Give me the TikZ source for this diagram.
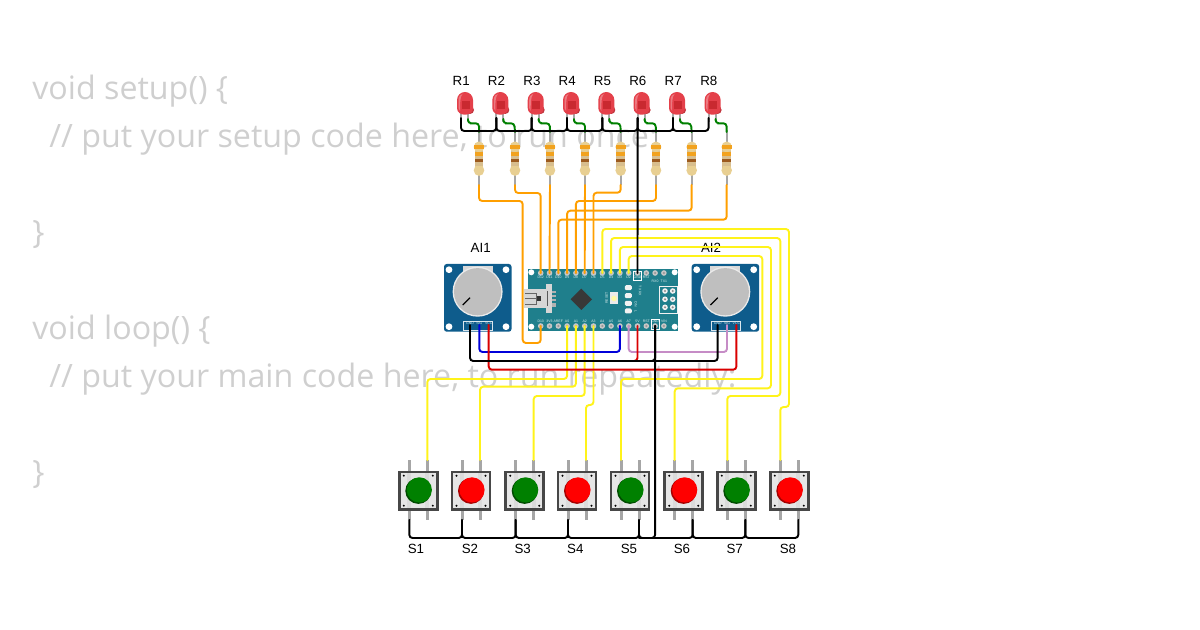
\documentclass[tikz,border=0pt]{standalone}
\usepackage{fontspec}
\setmainfont{Open Sans}
\newfontfamily\partfont{Liberation Sans}
\usepackage{tikz}
\tikzset{
  codeline/.style={anchor=base west,inner sep=0pt,text=black!19,font=\fontsize{24.17}{24}\selectfont},
  partlabel/.style={inner sep=0pt,font=\partfont\fontsize{10}{10}\selectfont},
  pinlabel/.style={inner sep=0pt,text=white!85!teal,font=\partfont\fontsize{2.6}{3}\selectfont},
  wire/.style={line width=1.45pt,rounded corners=2.4pt,line cap=round},
  wireor/.style={wire,draw=orange!75!yellow},
  wireyl/.style={wire,draw=yellow!90!white},
  wireblk/.style={wire,draw=black},
  wirered/.style={wire,draw=red!85!black},
  wireblu/.style={wire,draw=blue!85!black},
  wirepk/.style={wire,draw=violet!45!white},
  wiregr/.style={wire,draw=green!50!black},
  leadline/.style={draw=black!35,line width=1.6pt},
  holedot/.style={fill=white},
}
\definecolor{nanoteal}{HTML}{1F7F8C}
\definecolor{potblue}{HTML}{0E5C8C}
\definecolor{ledred}{HTML}{E4404A}
\definecolor{restan}{HTML}{D8BE8E}
\definecolor{resend}{HTML}{E8CF92}
\definecolor{resorange}{HTML}{F2A21E}
\definecolor{resbrown}{HTML}{9C5A1E}
\definecolor{btnbody}{HTML}{E6E6E6}
\begin{document}
\begin{tikzpicture}[x=0.75pt,y=-0.75pt]
  \useasboundingbox (0,0) rectangle (1200,630);
  \node[codeline] (code1) at (32,100) {void setup() \{};
  \node[codeline] (code2) at (49,148) {// put your setup code here, to run once:};
  \node[codeline] (code3) at (32,244) {\}};
  \node[codeline] (code4) at (32,340) {void loop() \{};
  \node[codeline] (code5) at (49,388) {// put your main code here, to run repeatedly:};
  \node[codeline] (code6) at (32,484) {\}};

  \foreach \i/\x/\lx in {1/465/479,2/500.3/515,3/535.7/550,4/571/585,5/606.3/620.7,6/641.6/656,7/677/691.7,8/712.6/726.7} {
    \fill[black!35] (\x-5,112) rectangle (\x-3,122);
    \fill[black!35] (\x+2,112) rectangle (\x+4,122);
    \fill[ledred!85!black] (\x+5,110) circle[radius=4];
    \fill[ledred] (\x-8,108) -- (\x-8,100) arc[start angle=180,end angle=360,radius=8] -- (\x+8,108) .. controls (\x+8,117) and (\x-8,117) .. cycle;
    \fill[white,opacity=0.3] (\x-6.5,108) -- (\x-6.5,100) .. controls (\x-6.5,96) and (\x-4,94) .. (\x-2.5,94) .. controls (\x-5,97) and (\x-5,103) .. (\x-5,111) -- cycle;
    \fill[red!60!black,opacity=0.35] (\x-3.5,101) rectangle (\x+4.5,109);
    \coordinate (Lc\i) at (\x-4,118);
    \coordinate (La\i) at (\x+3,119);
    \coordinate (Lb\i) at (\x-4,131);
    \node[partlabel] (lblR\i) at (\x-3.8,80.7) {R\i};
    \draw[leadline] (\lx,130) -- (\lx,185);
    \fill[restan] (\lx-4.4,146) rectangle (\lx+4.4,171);
    \fill[resend] (\lx,147) ellipse[x radius=5.3,y radius=5.5];
    \fill[resend] (\lx,170.3) ellipse[x radius=5.3,y radius=5.6];
    \fill[restan] (\lx-4.4,152) rectangle (\lx+4.4,166);
    \fill[resorange] (\lx-5.2,145.3) rectangle (\lx+5.2,149);
    \fill[resorange] (\lx-4.4,152.5) rectangle (\lx+4.4,156);
    \fill[resbrown] (\lx-4.4,158.6) rectangle (\lx+4.4,162);
    \coordinate (Rt\i) at (\lx,132);
    \coordinate (Rb\i) at (\lx,185);
  }

  \foreach \n/\x in {1/444,2/691.7} {
    \fill[potblue,rounded corners=2pt] (\x,264) rectangle (\x+67.5,331.7);
    \fill[black!15] (\x+18.7,265.7) rectangle (\x+48.7,272);
    \fill[black!8] (\x+33.6,291.7) circle[radius=25];
    \fill[black!25] (\x+33.6,291.7) circle[radius=23.6];
    \draw[line width=0.9pt] (\x+18.7,305) -- (\x+26,297.7);
    \fill[holedot] (\x+5,269.7) circle[radius=3.4];
    \fill[holedot] (\x+62,269.7) circle[radius=3.4];
    \fill[holedot] (\x+5,326.7) circle[radius=3.4];
    \fill[holedot] (\x+62,326.7) circle[radius=3.4];
    \draw[white!85!potblue,line width=0.6pt] (\x+19.3,321.7) rectangle (\x+48.7,330);
    \node[pinlabel] (gnd\n) at (\x+26,323.4) {GND};
    \node[pinlabel] (sig\n) at (\x+35.3,323.4) {SIG};
    \node[pinlabel] (vcc\n) at (\x+44.7,323.4) {VCC};
    \coordinate (P\n g) at (\x+26,325);
    \coordinate (P\n s) at (\x+35.3,325);
    \coordinate (P\n v) at (\x+44.7,325);
  }
  \node[partlabel] (lblAI1) at (480.7,248.3) {AI1};
  \node[partlabel] (lblAI2) at (711,248.3) {AI2};

  \fill[nanoteal] (527.7,269) rectangle (678,331);
  \fill[holedot] (531.3,272.3) circle[radius=3];
  \fill[holedot] (674.7,272.3) circle[radius=3];
  \fill[holedot] (531.3,326.7) circle[radius=3];
  \fill[holedot] (674.7,326.7) circle[radius=3];
  \foreach \i/\tl/\bl in {1/D12/D13,2/D11/3V3,3/D10/AREF,4/D9/A0,5/D8/A1,6/D7/A2,7/D6/A3,8/D5/A4,9/D4/A5,10/D3/A6,11/D2/A7,12/GND/5V,13/RST/RST,14/RX0/GND,15/TX1/VIN} {
    \coordinate (T\i) at ({540.7+8.8*(\i-1)},273);
    \coordinate (B\i) at ({540.7+8.8*(\i-1)},326);
    \fill[black!22] (T\i) circle[radius=2.8];
    \fill[black!22] (B\i) circle[radius=2.8];
    \fill[black!40] (T\i) circle[radius=1.2];
    \fill[black!40] (B\i) circle[radius=1.2];
    \node[pinlabel] (tpin\i) at ({540.7+8.8*(\i-1)},{\i>13 ? 281 : 277.6}) {\tl};
    \node[pinlabel] (bpin\i) at ({540.7+8.8*(\i-1)},321.2) {\bl};
  }
  \draw[white,line width=0.5pt] (633.5,271) rectangle (641.7,280);
  \draw[white,line width=0.5pt] (651.5,319.5) rectangle (659.7,329.5);

  \fill[black!16] (524.3,289) rectangle (551.7,308);
  \fill[black!16] (546,284) rectangle (552,291);
  \fill[black!16] (546,306) rectangle (552,312.7);
  \fill[black!30] (552,291) rectangle (556,307);
  \fill[nanoteal] (552,293.5) rectangle (556,295);
  \fill[nanoteal] (552,297.5) rectangle (556,299);
  \fill[nanoteal] (552,301.5) rectangle (556,303);
  \draw[black!60,line width=0.5pt] (525,293.5) -- (536,293.5) -- (536,304) -- (525,304);
  \draw[black!60,line width=0.5pt] (525,298) -- (536,298);
  \fill[black!80] (537,296) rectangle (541,301.5);
  \draw[black!65,line width=0.6pt] (547.5,291) -- (547.5,306);
  \fill[black!78] (570.6,299.3) -- (581.3,288.6) -- (592,299.3) -- (581.3,310) -- cycle;
  \fill[black!8] (610,292.5) rectangle (618,304.5);
  \fill[yellow!35!white] (614,298.5) circle[radius=2.8];
  \foreach \y in {287.7,295.7,303.3,311} {
    \fill[black!5,rounded corners=1pt] (624.8,\y-2.5) rectangle (631.8,\y+2.5);
  }
  \node[pinlabel,rotate=90] (rstlbl) at (606.7,298) {RESET};
  \node[pinlabel,rotate=-90] (txlbl) at (640,291) {TX RX};
  \node[pinlabel,rotate=-90] (onlbl) at (635.7,304) {ON};
  \node[pinlabel,rotate=-90] (llbl) at (635.7,311) {L};
  \draw[black!5,line width=0.6pt] (659.5,286.7) rectangle (677.8,313.3);
  \foreach \px in {665,672.7} {
    \foreach \py in {291,299.3,307.3} {
      \fill[black!5] (\px,\py) circle[radius=2.8];
      \fill[black!45] (\px,\py) circle[radius=1.2];
    }
  }

  \foreach \i/\x/\gx/\knob/\dark in {1/418.3/-9/green!50!black/green!30!black,2/471/-9/red/red!65!black,3/524.7/-9/green!50!black/green!30!black,4/577/-9/red/red!65!black,5/630/9/green!50!black/green!30!black,6/683.7/9/red/red!65!black,7/736.3/9/green!50!black/green!30!black,8/789.3/9/red/red!65!black} {
    \fill[black!35] (\x-10.5,460) rectangle (\x-7.5,520);
    \fill[black!35] (\x+7.5,460) rectangle (\x+10.5,520);
    \fill[btnbody] (\x-19,472) rectangle (\x+19,509.5);
    \fill[black!14] (\x-11,472) rectangle (\x-7,509.5);
    \fill[black!14] (\x+7,472) rectangle (\x+11,509.5);
    \draw[black!72,line width=2.1pt] (\x-19,472) rectangle (\x+19,509.5);
    \foreach \dx in {-14.5,14.5} {
      \foreach \dy in {-15,15} {
        \fill[black] (\x+\dx,490.7+\dy) circle[radius=1.1];
      }
    }
    \fill[\dark] (\x,490.9) circle[radius=13];
    \fill[\knob] (\x+1,489.9) circle[radius=12.6];
    \coordinate (SAl\i) at (\x-9,460);
    \coordinate (SAr\i) at (\x+9,460);
    \coordinate (Sg\i) at (\x+\gx,520);
    \coordinate (Sj\i) at (\x+\gx,538);
  }
  \node[partlabel] (lblS1) at (416,549) {S1};
  \node[partlabel] (lblS2) at (470,549) {S2};
  \node[partlabel] (lblS3) at (522.7,549) {S3};
  \node[partlabel] (lblS4) at (575.3,549) {S4};
  \node[partlabel] (lblS5) at (629,549) {S5};
  \node[partlabel] (lblS6) at (682,549) {S6};
  \node[partlabel] (lblS7) at (734.7,549) {S7};
  \node[partlabel] (lblS8) at (788,549) {S8};

  \draw[wireor] (Rb1) -- ++(0,16) -| (522.7,343) -| (B1);
  \draw[wireor] (Rb2) -- ++(0,8) -| (T1);
  \draw[wireor] (Rb3) -- (T2);
  \draw[wireor] (Rb4) -- (T6);
  \draw[wireor] (Rb5) -- ++(0,7.7) -| (T7);
  \draw[wireor] (Rb6) -- ++(0,16) -| (T5);
  \draw[wireor] (Rb7) -- ++(0,25.7) -| (T4);
  \draw[wireor] (Rb8) -- ++(0,34.7) -| (T3);

  \draw[wireyl] (T8) |- (789,229) |- (SAl8 |- 0,407) -- (SAl8);
  \draw[wireyl] (T9) |- (780.3,238) -- (780.3,396) -| (SAl7);
  \draw[wireyl] (T10) |- (771,247) -- (771,388.3) -| (SAl6);
  \draw[wireyl] (T11) |- (762.3,256) -- (762.3,379) -| (SAl5);
  \draw[wireyl] (B4) -- ++(0,53) -| (SAr1);
  \draw[wireyl] (B5) -- ++(0,60.7) -| (SAr2);
  \draw[wireyl] (B6) -- ++(0,70) -| (SAr3);
  \draw[wireyl] (B7) -- ++(0,79) -| (SAr4);

  \draw[wireblu] (P1s) -- ++(0,27) -| (B10);
  \draw[wirepk] (B11) -- ++(0,26) -| (P2s);
  \draw[wirered] (P1v) -- ++(0,44.7) -| (P2v);
  \draw[wirered] (B12) |- (632,361);
  \draw[wireblk] (P1g) -- ++(0,36) -| (P2g);
  \draw[wireblk] (B14) |- (648,361);
  \draw[wireblk] (B14) |- (Sj5);
  \draw[wireblk] (Lb6) -- (T12);

  \foreach \i in {1,...,8} {
    \draw[wiregr] (La\i) |- ++(5,4.3) -- ++(6,0) -- (Rt\i);
  }
  \foreach \i/\j in {1/2,2/3,3/4,4/5,5/6,6/7,7/8} {
    \draw[wireblk] (Lc\i) -- (Lb\i) -- (Lb\j) -- (Lc\j);
    \draw[wireblk] (Sg\i) -- (Sj\i) -- (Sj\j) -- (Sg\j);
  }
\end{tikzpicture}
\end{document}
